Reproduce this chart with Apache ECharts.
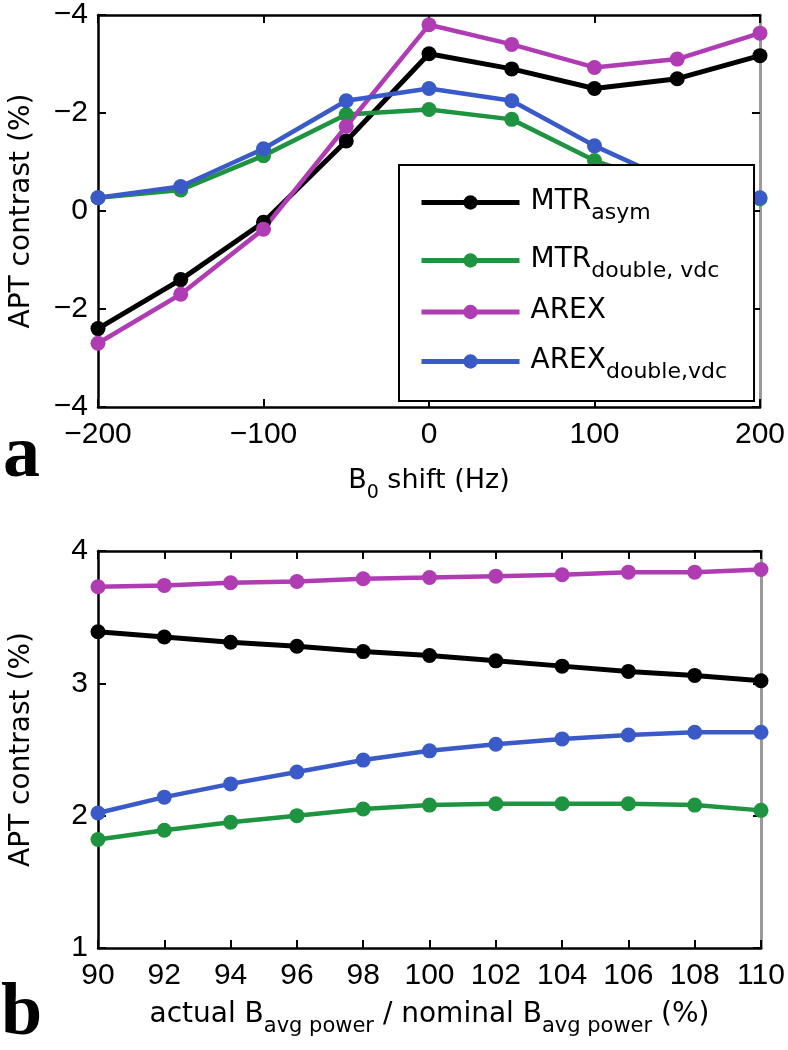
<!DOCTYPE html>
<html><head><meta charset="utf-8">
<script src="https://cdn.jsdelivr.net/npm/echarts@6/dist/echarts.min.js"></script>
<style>html,body{margin:0;padding:0;background:#fff}#c{width:788px;height:1050px}</style>
</head><body><div id="c"></div>
<script>
// Panel a: B0 shift (Hz)
const shiftHz = [-200, -150, -100, -50, 0, 50, 100, 150, 200];
const mtrAsymA = [-2.4, -1.4, -0.23, 1.43, 3.21, 2.9, 2.5, 2.7, 3.17];
const mtrDoubleA = [0.27, 0.43, 1.13, 1.97, 2.07, 1.87, 1.03, 0.45, 0.25];
const arexA = [-2.7, -1.7, -0.37, 1.73, 3.8, 3.4, 2.93, 3.1, 3.63];
const arexDoubleA = [0.27, 0.5, 1.27, 2.25, 2.5, 2.25, 1.33, 0.56, 0.27];
// Panel b: actual / nominal power (%)
const powerPct = [90, 92, 94, 96, 98, 100, 102, 104, 106, 108, 110];
const mtrAsymB = [3.39, 3.35, 3.31, 3.28, 3.24, 3.21, 3.17, 3.13, 3.09, 3.06, 3.02];
const mtrDoubleB = [1.82, 1.89, 1.95, 2.0, 2.05, 2.08, 2.09, 2.09, 2.09, 2.08, 2.04];
const arexB = [3.73, 3.74, 3.76, 3.77, 3.79, 3.80, 3.81, 3.82, 3.84, 3.84, 3.86];
const arexDoubleB = [2.02, 2.14, 2.24, 2.33, 2.42, 2.49, 2.54, 2.58, 2.61, 2.63, 2.63];
// Labels
const seriesNames = ['MTR asym', 'MTR double, vdc', 'AREX', 'AREX double,vdc'];
const legendMain = ['MTR', 'MTR', 'AREX', 'AREX'];
const legendSub = ['asym', 'double, vdc', '', 'double,vdc'];
const yTickLabelsA = ['\u22124', '\u22122', '0', '\u22122', '\u22124']; // bottom to top, as printed
const colors = ['#000000', '#1e9440', '#b03cb4', '#3a5ac8'];

const FT = '"DejaVu Sans", sans-serif';
const FL = '"Liberation Sans", Arial, sans-serif';

const chart = echarts.init(document.getElementById('c'), null, {renderer: 'canvas'});

function pairs(xs, ys) { return xs.map((x, i) => [x, ys[i]]); }
const dataA = [mtrAsymA, mtrDoubleA, arexA, arexDoubleA];
const dataB = [mtrAsymB, mtrDoubleB, arexB, arexDoubleB];

const series = [];
for (let i = 0; i < 4; i++) {
  const common = {
    type: 'line', name: seriesNames[i], symbol: 'circle', symbolSize: 15,
    lineStyle: {color: colors[i], width: i === 0 ? 5 : 4.5},
    itemStyle: {color: colors[i]},
    emphasis: {disabled: true}, animation: false, clip: false
  };
  series.push(Object.assign({}, common, {xAxisIndex: 0, yAxisIndex: 0, data: pairs(shiftHz, dataA[i])}));
  series.push(Object.assign({}, common, {xAxisIndex: 2, yAxisIndex: 2, data: pairs(powerPct, dataB[i])}));
}

const axisLineBlack = {show: true, onZero: false, lineStyle: {color: '#000', width: 2.5}};
const axisLineGray = {show: true, onZero: false, lineStyle: {color: '#9a9a9a', width: 3}};
const tickIn = {show: true, inside: true, length: 8, lineStyle: {color: '#000', width: 2}};
const tickLabel = {fontFamily: FL, fontSize: 30, color: '#000'};
const fmtMinus = v => (v < 0 ? '\u2212' + Math.abs(v) : String(v));

const nameRichA = {
  m: {fontFamily: FT, fontSize: 27, lineHeight: 30, verticalAlign: 'top', color: '#000'},
  s: {fontFamily: FT, fontSize: 19, lineHeight: 19, padding: [22, 0, 0, 0], color: '#000'}
};
const nameRichB = {
  m: {fontFamily: FT, fontSize: 28, lineHeight: 31, verticalAlign: 'top', color: '#000'},
  s: {fontFamily: FT, fontSize: 21, lineHeight: 21, padding: [21, 0, 0, 0], color: '#000'}
};

const grids = [
  {left: 93, top: 11, width: 668, height: 396},
  {left: 93, top: 551, width: 668, height: 397}
];

const option = {
  backgroundColor: '#fff',
  animation: false,
  grid: grids,
  xAxis: [
    {gridIndex: 0, type: 'value', min: -200, max: 200, interval: 100, position: 'bottom',
     axisLine: axisLineBlack, axisTick: tickIn, splitLine: {show: false},
     axisLabel: Object.assign({margin: 13, formatter: fmtMinus}, tickLabel),
     name: '{m|B}{s|0}{m| shift (Hz)}', nameLocation: 'middle', nameGap: 60,
     nameTextStyle: {rich: nameRichA}},
    {gridIndex: 0, type: 'value', min: -200, max: 200, interval: 100, position: 'top',
     axisLine: axisLineBlack, axisTick: tickIn, splitLine: {show: false}, axisLabel: {show: false}},
    {gridIndex: 1, type: 'value', min: 90, max: 110, interval: 2, position: 'bottom',
     axisLine: axisLineBlack, axisTick: tickIn, splitLine: {show: false},
     axisLabel: Object.assign({margin: 13}, tickLabel),
     name: '{m|actual B}{s|avg power}{m| / nominal B}{s|avg power}{m| (%)}',
     nameLocation: 'middle', nameGap: 53, nameTextStyle: {rich: nameRichB}},
    {gridIndex: 1, type: 'value', min: 90, max: 110, interval: 2, position: 'top',
     axisLine: axisLineBlack, axisTick: tickIn, splitLine: {show: false}, axisLabel: {show: false}}
  ],
  yAxis: [
    {gridIndex: 0, type: 'value', min: -4, max: 4, interval: 2, position: 'left',
     axisLine: axisLineBlack, axisTick: tickIn, splitLine: {show: false},
     axisLabel: Object.assign({margin: 10, formatter: v => yTickLabelsA[Math.round((v + 4) / 2)]}, tickLabel),
     name: 'APT contrast (%)', nameLocation: 'middle', nameGap: 62,
     nameTextStyle: {fontFamily: FT, fontSize: 28, color: '#000'}},
    {gridIndex: 0, type: 'value', min: -4, max: 4, interval: 2, position: 'right',
     axisLine: axisLineGray, axisTick: tickIn, splitLine: {show: false}, axisLabel: {show: false}},
    {gridIndex: 1, type: 'value', min: 1, max: 4, interval: 1, position: 'left',
     axisLine: axisLineBlack, axisTick: tickIn, splitLine: {show: false},
     axisLabel: Object.assign({margin: 10}, tickLabel),
     name: 'APT contrast (%)', nameLocation: 'middle', nameGap: 62,
     nameTextStyle: {fontFamily: FT, fontSize: 28, color: '#000'}},
    {gridIndex: 1, type: 'value', min: 1, max: 4, interval: 1, position: 'right',
     axisLine: axisLineGray, axisTick: tickIn, splitLine: {show: false}, axisLabel: {show: false}}
  ],
  legend: {
    data: seriesNames,
    orient: 'vertical', left: 399, top: 165,
    padding: [16, 27, 18, 20], itemGap: 15,
    itemWidth: 98, itemHeight: 18,
    lineStyle: {width: 5},
    backgroundColor: '#fff', borderColor: '#000', borderWidth: 2,
    selectedMode: false,
    formatter: name => {
      const i = seriesNames.indexOf(name);
      return legendSub[i] ? '{m|' + legendMain[i] + '}{s|' + legendSub[i] + '}' : '{m|' + legendMain[i] + '}';
    },
    textStyle: {
      rich: {
        m: {fontFamily: FT, fontSize: 28, lineHeight: 30, verticalAlign: 'top', color: '#000', padding: [0, 0, 0, 6]},
        s: {fontFamily: FT, fontSize: 22, lineHeight: 22, padding: [21, 0, 0, 0], color: '#000'}
      }
    }
  },
  graphic: [
    {type: 'text', left: 3, top: 420, style: {text: 'a', font: 'bold 74px "Liberation Serif", serif', fill: '#000'}},
    {type: 'text', left: 1, top: 978, style: {text: 'b', font: 'bold 74px "Liberation Serif", serif', fill: '#000'}}
  ],
  series: series
};
chart.setOption(option);
</script>
</body></html>
